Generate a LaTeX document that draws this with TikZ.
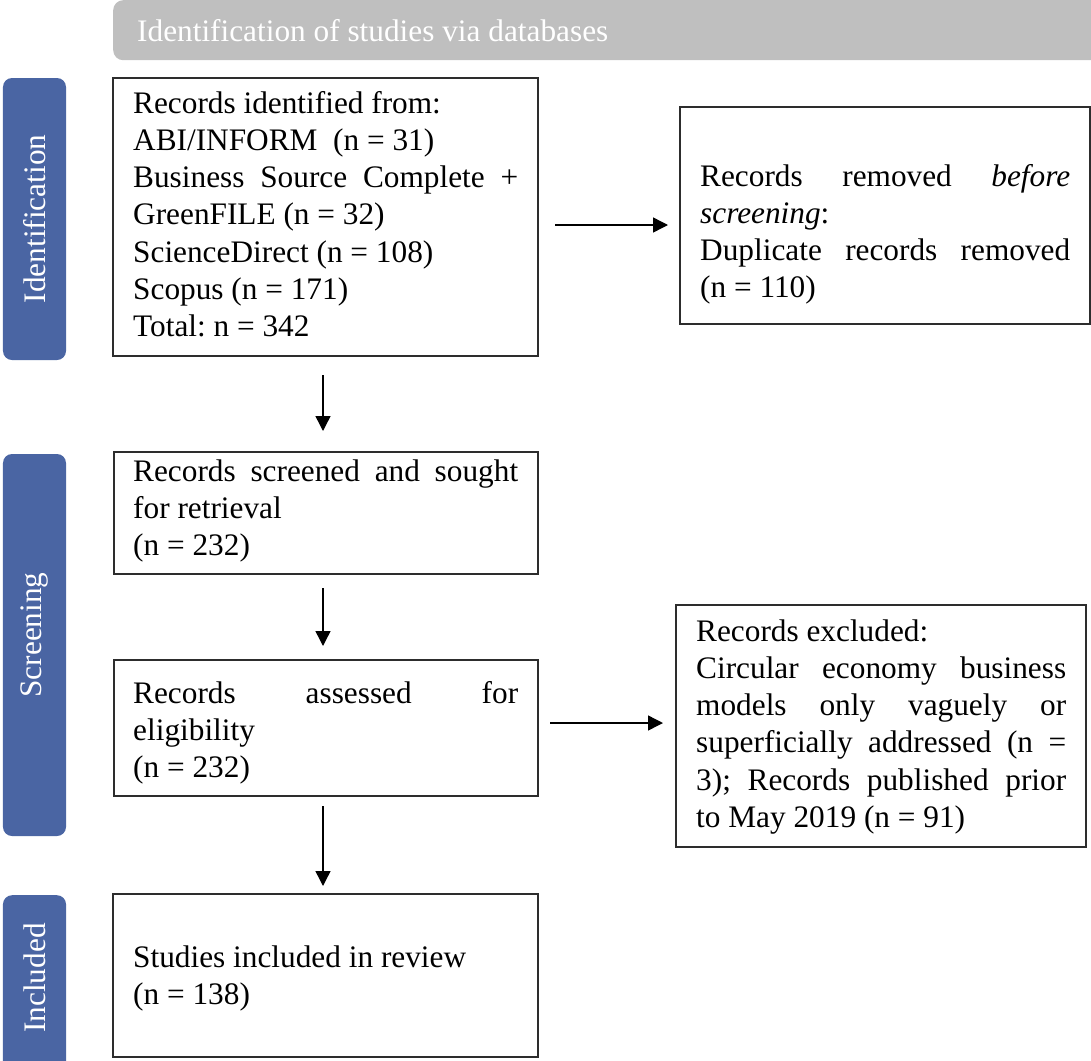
\documentclass[tikz,border=0pt]{standalone}
\usepackage{fontspec}
\setmainfont{Liberation Serif}
\usetikzlibrary{arrows.meta}
\definecolor{barblue}{RGB}{74,101,163}
\definecolor{bannergray}{RGB}{191,191,191}
\definecolor{boxline}{RGB}{45,45,45}
\newcommand\bxfont{\fontsize{31.3bp}{37.3bp}\selectfont\frenchspacing}
\begin{document}
\begin{tikzpicture}[x=1bp,y=-1bp,
  box/.style={draw=boxline, line width=1.2bp, fill=white, inner sep=0pt},
  bar/.style={fill=barblue, rounded corners=9bp, inner sep=0pt, minimum width=63bp},
  bartext/.style={text=white, rotate=90, font=\bxfont, inner sep=0pt},
  txt/.style={anchor=base west, inner sep=0pt, font=\bxfont, align=left},
  arr/.style={line width=1.4bp, -{Triangle[length=15bp,width=15bp]}}
]
\useasboundingbox (0,0) rectangle (1091,1061);
% banner
\node[fill=bannergray, rounded corners=10bp, minimum width=1000bp, minimum height=60bp, anchor=north west, inner sep=0pt] (banner) at (113,0) {};
\node[anchor=base west, inner sep=0pt, text=white, font=\bxfont] (bannertext) at (137,41) {Identification of studies via databases};
% side bars
\node[bar, minimum height=282bp] (barid) at (34.5,219) {};
\node[bartext] (baridt) at (34.5,219) {Identification};
\node[bar, minimum height=382bp] (barsc) at (34.5,645) {};
\node[bartext] (barsct) at (34.5,635) {Screening};
\node[bar, minimum height=185bp, anchor=north] (barin) at (34.5,895) {};
\node[bartext] (barint) at (34.5,978) {Included};
% boxes
\node[box, minimum width=425bp, minimum height=278bp] (b1) at (325.5,217) {};
\node[box, minimum width=410bp, minimum height=217bp] (brem) at (885,215.5) {};
\node[box, minimum width=424bp, minimum height=122bp] (bscr) at (326,513) {};
\node[box, minimum width=424bp, minimum height=136bp] (bass) at (326,728) {};
\node[box, minimum width=410bp, minimum height=242bp] (bexc) at (881,726) {};
\node[box, minimum width=425bp, minimum height=163bp] (binc) at (325.5,975.5) {};
% texts
\node[txt] (t1) at (133,113) {\parbox[t]{385bp}{\frenchspacing Records identified from:\\
ABI/INFORM~ (n = 31)\\
Business Source Complete +\linebreak
GreenFILE (n = 32)\\
ScienceDirect (n = 108)\\
Scopus (n = 171)\\
Total: n = 342}};
\node[txt] (trem) at (700,186) {\parbox[t]{370bp}{Records removed \textit{before}\linebreak
\textit{screening}:\\
Duplicate records removed\linebreak
(n = 110)}};
\node[txt] (tscr) at (133,481) {\parbox[t]{385bp}{Records screened and sought\linebreak
for retrieval\\
(n = 232)}};
\node[txt] (tass) at (133,703) {\parbox[t]{385bp}{Records assessed for\linebreak
eligibility\\
(n = 232)}};
\node[txt] (texc) at (696,641) {\parbox[t]{370bp}{\frenchspacing Records excluded:\\
Circular economy business\linebreak
models only vaguely or\linebreak
superficially addressed (n =\linebreak
3); Records published prior\linebreak
to May 2019 (n = 91)}};
\node[txt] (tinc) at (133,967) {\parbox[t]{385bp}{Studies included in review\\
(n = 138)}};
% arrows
\coordinate (a1s) at (555,225); \coordinate (a1e) at (668,225);
\coordinate (a2s) at (550,723); \coordinate (a2e) at (663,723);
\coordinate (d1s) at (323,375); \coordinate (d1e) at (323,431);
\coordinate (d2s) at (323,588); \coordinate (d2e) at (323,646);
\coordinate (d3s) at (323,806); \coordinate (d3e) at (323,886);
\draw[arr] (a1s) -- (a1e);
\draw[arr] (a2s) -- (a2e);
\draw[arr] (d1s) -- (d1e);
\draw[arr] (d2s) -- (d2e);
\draw[arr] (d3s) -- (d3e);
\end{tikzpicture}
\end{document}
